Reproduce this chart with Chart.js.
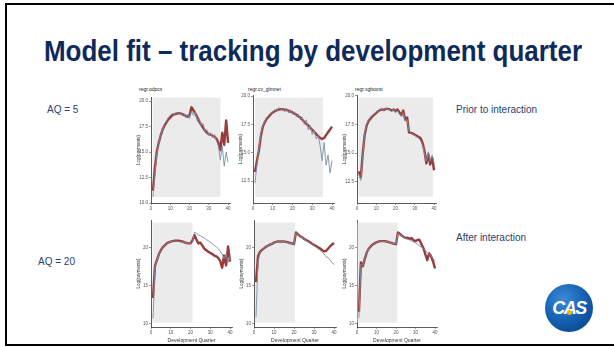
<!DOCTYPE html>
<html>
<head>
<meta charset="utf-8">
<script src="https://cdn.jsdelivr.net/npm/chart.js@4.4.0/dist/chart.umd.min.js"></script>
<style>
html,body{margin:0;padding:0;background:#fff;}
body{width:614px;height:347px;overflow:hidden;position:relative;font-family:"Liberation Sans",Arial,sans-serif;}
#frame{position:absolute;left:5px;top:3px;width:700px;height:343px;box-sizing:border-box;border:2px solid #000;}
#title{position:absolute;left:44px;top:37px;font-family:"Liberation Sans Narrow","Liberation Sans",Arial,sans-serif;font-weight:bold;font-size:29px;line-height:29px;color:#0e2a5b;white-space:nowrap;transform-origin:0 0;}
.side{position:absolute;font-size:10px;line-height:12px;color:#2b4070;white-space:nowrap;}
.ptitle{position:absolute;font-size:5px;line-height:6px;color:#222;white-space:nowrap;}
canvas{position:absolute;}
#logo{position:absolute;left:545px;top:284px;width:48px;height:48px;border-radius:50%;
  background:radial-gradient(circle at 38% 32%,#3d8ad6 0%,#1763b5 45%,#0b4a93 80%,#083b78 100%);}
#logo span{position:absolute;left:0;width:48px;top:14px;text-align:center;color:#fff;font:bold italic 18px/20px "Liberation Sans",Arial,sans-serif;letter-spacing:-1.5px;}
#logo i{position:absolute;left:22px;top:26px;width:5px;height:5px;border-radius:50%;background:#f5b400;}
</style>
</head>
<body>
<div id="frame"></div>
<div id="title">Model fit – tracking by development quarter</div>
<div class="side" style="left:47px;top:104px">AQ = 5</div>
<div class="side" style="left:456px;top:104px">Prior to interaction</div>
<div class="side" style="left:456px;top:232px">After interaction</div>
<div class="side" style="left:38px;top:256px">AQ = 20</div>
<div class="ptitle" style="left:139px;top:86px">regr.odpcs</div>
<div class="ptitle" style="left:248px;top:86px">regr.cv_glmnet</div>
<div class="ptitle" style="left:355px;top:86px">regr.xgboost</div>
<canvas id="tp1"></canvas><canvas id="tp2"></canvas><canvas id="tp3"></canvas>
<canvas id="bp1"></canvas><canvas id="bp2"></canvas><canvas id="bp3"></canvas>
<div id="logo"><span>CAS</span><i></i></div>
<script>
// Development quarters shown on the x axis
const quarters = [1,2,3,4,5,6,7,8,9,10,11,12,13,14,15,16,17,18,19,20,
                  21,22,23,24,25,26,27,28,29,30,31,32,33,34,35,36,37,38,39,40];
const xTicks = [0, 10, 20, 30, 40];
const yTicksTopOdp = [10, 12.5, 15, 17.5, 20];
const yTicksTop = [12.5, 15, 17.5, 20];
const yTicksBottom = [10, 15, 20];

// AQ = 5 (prior to interaction): actual and fitted log(payments)
const aq5ActualOdp = [10.6,12.8,14.8,15.8,16.7,17.2,17.8,18.0,18.4,18.6,18.8,18.6,18.9,18.7,18.9,18.6,18.8,18.4,18.7,18.3,
                      19.0,18.6,18.9,18.1,18.3,17.6,17.8,17.0,17.2,16.6,16.9,16.4,16.7,16.1,15.6,14.2,15.6,13.6,15.0,14.0];
const aq5FitOdp    = [11.2,13.4,15.0,15.9,16.6,17.2,17.6,17.9,18.2,18.4,18.6,18.7,18.75,18.8,18.8,18.75,18.65,18.55,18.45,18.6,
                      19.4,19.1,18.8,18.4,18.0,17.7,17.4,17.1,16.9,16.75,16.7,16.6,16.5,16.3,15.9,15.2,16.9,15.7,18.1,15.9];
const aq5ActualGlm = [12.3,14.0,15.4,16.7,17.4,17.8,18.1,18.3,18.5,18.6,18.8,18.6,19.0,18.8,18.9,18.6,18.9,18.5,18.8,18.4,
                      18.6,18.2,18.4,17.9,18.1,17.5,17.9,17.0,17.4,16.6,17.0,16.2,16.5,15.6,14.3,15.9,13.9,14.8,13.2,14.3];
const aq5FitGlm    = [13.3,14.3,15.2,16.5,17.3,17.7,18.0,18.2,18.4,18.55,18.65,18.75,18.8,18.83,18.83,18.8,18.77,18.7,18.63,18.55,
                      18.45,18.35,18.2,18.1,17.9,17.7,17.55,17.4,17.2,17.0,16.85,16.65,16.45,16.3,16.2,16.3,16.55,16.8,17.05,17.3];
const aq5ActualXgb = [13.1,12.6,14.8,16.8,17.5,17.9,18.1,18.3,18.4,18.6,18.6,18.8,18.85,18.7,18.9,18.8,18.75,18.6,18.85,18.5,
                      18.7,18.4,18.2,18.5,17.8,17.9,16.9,16.8,16.6,16.55,16.4,16.3,16.1,15.7,15.0,14.3,15.1,14.3,14.8,14.1];
const aq5FitXgb    = [13.4,12.9,15.0,16.6,17.4,17.8,18.0,18.2,18.35,18.5,18.65,18.75,18.8,18.75,18.85,18.85,18.8,18.7,18.8,18.65,
                      18.8,18.55,18.3,18.7,17.9,18.1,16.8,16.75,16.7,16.6,16.5,16.4,16.3,15.9,15.2,14.1,14.9,14.0,14.6,13.5];

// AQ = 20 (after interaction)
const aq20ActualOdp = [10.7,17.5,18.3,19.2,19.7,20.1,20.35,20.55,20.75,20.85,20.9,20.9,20.9,20.85,20.8,20.75,20.7,20.65,20.6,20.6,
                       20.7,22.1,21.9,21.7,21.6,21.45,21.3,21.1,20.95,20.75,20.55,20.35,20.15,19.9,19.6,19.2,18.6,19.2,18.1,18.9];
const aq20FitOdp    = [13.4,17.6,18.4,19.2,19.7,20.1,20.35,20.6,20.75,20.85,20.9,20.95,20.95,20.95,20.9,20.85,20.75,20.65,20.6,20.6,
                       21.0,21.7,21.1,20.6,20.7,20.3,19.9,19.7,19.5,19.35,19.2,19.0,18.9,18.7,18.3,17.4,19.0,17.7,20.2,18.2];
const aq20ActualGlm = [10.9,18.1,19.4,19.7,19.95,20.15,20.3,20.45,20.6,20.7,20.8,20.85,20.9,20.85,20.85,20.8,20.7,20.6,20.55,20.5,
                       22.0,21.75,21.5,21.35,21.15,21.0,20.8,20.65,20.45,20.3,20.1,19.9,19.7,19.45,19.2,18.85,18.75,18.4,18.1,17.8];
const aq20FitGlm    = [15.5,18.9,19.5,19.75,19.95,20.15,20.3,20.45,20.55,20.7,20.8,20.85,20.85,20.85,20.85,20.8,20.75,20.65,20.6,20.5,
                       22.05,21.8,21.55,21.4,21.2,21.05,20.9,20.75,20.55,20.4,20.25,20.1,19.95,19.75,19.55,19.6,19.9,20.2,20.45,20.65];
const aq20ActualXgb = [10.8,17.9,17.7,18.7,19.4,19.9,20.2,20.45,20.6,20.75,20.85,20.9,20.9,20.85,20.85,20.8,20.7,20.6,20.55,20.5,
                       21.9,21.75,21.6,21.4,21.25,21.15,21.05,20.95,20.8,20.65,20.5,20.3,20.1,19.9,19.7,19.4,19.2,18.9,18.6,18.2];
const aq20FitXgb    = [11.6,18.1,17.6,18.6,19.4,19.9,20.2,20.45,20.6,20.75,20.85,20.9,20.9,20.9,20.85,20.8,20.7,20.65,20.55,20.5,
                       22.05,21.85,21.6,21.45,21.3,21.35,21.2,21.3,21.0,20.9,21.05,21.1,20.5,20.0,19.2,18.4,19.3,18.9,18.2,17.3];

// Training window (shaded) per panel: [x from, x to, y from, y to]
const trainTopOdp = [0.9, 36.1, 10.6, 20.35];
const trainTopGlm = [1.1, 35.4, 11.1, 19.85];
const trainTopXgb = [0.7, 39.5, 11.2, 19.83];
const trainBotOdp = [0.8, 21.0, 10.2, 23.33];
const trainBotGlm = [0.5, 20.5, 10.2, 23.33];
const trainBotXgb = [0.3, 20.7, 10.2, 23.33];

const FIT_COLOR = '#983b3c';
const ACTUAL_COLOR = '#7b8ea7';
const SHADE_COLOR = '#ebebeb';

Chart.defaults.font.family = '"Liberation Sans", Arial, sans-serif';

// fit the headline to its line width
(function () {
  const t = document.getElementById('title');
  const w = t.getBoundingClientRect().width;
  t.style.transform = 'scaleX(' + (538 / w) + ')';
})();

const shadePlugin = {
  id: 'trainShade',
  beforeDatasetsDraw(chart, args, opts) {
    const b = opts.band; if (!b) return;
    const { ctx, scales: { x, y } } = chart;
    const x0 = x.getPixelForValue(b[0]), x1 = x.getPixelForValue(b[1]);
    const y0 = y.getPixelForValue(b[3]), y1 = y.getPixelForValue(b[2]);
    ctx.save();
    ctx.fillStyle = SHADE_COLOR;
    ctx.fillRect(x0, y0, x1 - x0, y1 - y0);
    ctx.restore();
  }
};

function pairs(vals) { return quarters.map((q, i) => ({ x: q, y: vals[i] })); }

function panel(id, p) {
  const yw = 15, padTop = 4, padRight = 4;
  const xh = p.bottomRow ? 17 : 9;
  const cv = document.getElementById(id);
  const left = p.area[0] - yw, top = p.area[1] - padTop;
  const w = p.area[2] - left + padRight, h = p.area[3] - top + xh;
  cv.width = w; cv.height = h;
  cv.style.left = left + 'px'; cv.style.top = top + 'px';
  cv.style.width = w + 'px'; cv.style.height = h + 'px';
  new Chart(cv, {
    type: 'line',
    data: {
      datasets: [
        { data: pairs(p.actual), borderColor: ACTUAL_COLOR, borderWidth: 0.9, pointRadius: 0, tension: 0, order: 0 },
        { data: pairs(p.fit), borderColor: FIT_COLOR, borderWidth: 2.4, pointRadius: 0, tension: 0, order: 1, borderJoinStyle: 'round' }
      ]
    },
    options: {
      responsive: false, animation: false, devicePixelRatio: 1,
      layout: { padding: { left: 0, top: padTop, right: padRight, bottom: 0 } },
      plugins: { legend: { display: false }, tooltip: { enabled: false }, trainShade: { band: p.band } },
      scales: {
        x: {
          type: 'linear', min: 0, max: 41,
          afterBuildTicks: s => { s.ticks = xTicks.map(v => ({ value: v })); },
          afterFit: s => { s.height = xh; },
          grid: { display: true, drawOnChartArea: false, drawTicks: true, tickLength: 2, color: '#555', lineWidth: 0.6 },
          border: { display: true, color: '#333', width: 0.8 },
          ticks: { font: { size: 4.5 }, color: '#555', padding: 1, maxRotation: 0, autoSkip: false },
          title: { display: !!p.bottomRow, text: 'Development Quarter', font: { size: 5 }, color: '#333', padding: { top: 1, bottom: 0 } }
        },
        y: {
          type: 'linear', min: p.ymin, max: p.ymax,
          afterBuildTicks: s => { s.ticks = p.yticks.map(v => ({ value: v })); },
          afterFit: s => { s.width = yw; },
          grid: { display: true, drawOnChartArea: false, drawTicks: true, tickLength: 2, color: '#555', lineWidth: 0.6 },
          border: { display: true, color: '#333', width: 0.8 },
          ticks: { font: { size: 4.5 }, color: '#555', padding: 1, autoSkip: false,
                   callback: v => p.bottomRow ? String(v) : v.toFixed(1) },
          title: { display: true, text: 'Log(payments)', font: { size: 4.5 }, color: '#333', padding: 0 }
        }
      }
    },
    plugins: [shadePlugin]
  });
}

panel('tp1', { area: [150.5, 97, 230, 203], ymin: 10, ymax: 20.4, yticks: yTicksTopOdp, actual: aq5ActualOdp, fit: aq5FitOdp, band: trainTopOdp });
panel('tp2', { area: [252.7, 95, 334, 203], ymin: 10.56, ymax: 20.09, yticks: yTicksTop, actual: aq5ActualGlm, fit: aq5FitGlm, band: trainTopGlm });
panel('tp3', { area: [356.7, 95, 436, 203], ymin: 10.64, ymax: 20.06, yticks: yTicksTop, actual: aq5ActualXgb, fit: aq5FitXgb, band: trainTopXgb });
panel('bp1', { area: [151, 220, 232, 327], ymin: 9.6, ymax: 23.68, yticks: yTicksBottom, actual: aq20ActualOdp, fit: aq20FitOdp, band: trainBotOdp, bottomRow: true });
panel('bp2', { area: [254, 220, 336, 327], ymin: 9.6, ymax: 23.68, yticks: yTicksBottom, actual: aq20ActualGlm, fit: aq20FitGlm, band: trainBotGlm, bottomRow: true });
panel('bp3', { area: [356.7, 220, 437, 327], ymin: 9.6, ymax: 23.68, yticks: yTicksBottom, actual: aq20ActualXgb, fit: aq20FitXgb, band: trainBotXgb, bottomRow: true });
</script>
</body>
</html>
